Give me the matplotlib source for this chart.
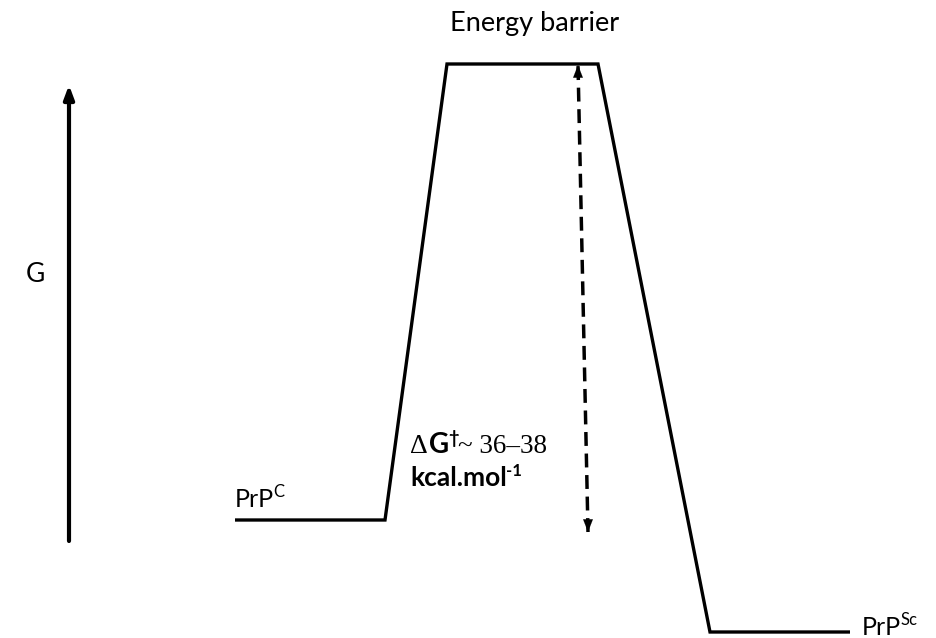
import matplotlib
matplotlib.use("Agg")
import matplotlib.pyplot as plt

# Reaction coordinate (x) and free energy (G) of the profile vertices
path_x = [235, 385, 447, 598, 710, 850]
path_G = [118, 118, 574, 574, 6, 6]

# Dashed barrier arrow (x, G) endpoints
barrier_arrow_x = [588, 578]
barrier_arrow_G = [106, 573]

# G axis arrow
gaxis_x = [69, 69]
gaxis_G = [97, 553]

fig = plt.figure(figsize=(9.37, 6.38), dpi=100)
ax = fig.add_axes([0, 0, 1, 1])
ax.set_xlim(0, 937)
ax.set_ylim(0, 638)
ax.axis("off")

ax.plot(path_x, path_G, color="black", lw=2.4, solid_joinstyle="miter",
        solid_capstyle="butt")

# dashed double arrow
ax.plot(barrier_arrow_x, barrier_arrow_G, color="black", lw=2.5,
        dashes=(4, 2.2))
for (x0, y0), (x1, y1) in [((barrier_arrow_x[0], barrier_arrow_G[0] + 12), (barrier_arrow_x[0], barrier_arrow_G[0])),
                           ((barrier_arrow_x[1], barrier_arrow_G[1] - 12), (barrier_arrow_x[1], barrier_arrow_G[1]))]:
    ax.annotate("", xy=(x1, y1), xytext=(x0, y0),
                arrowprops=dict(arrowstyle="-|>,head_length=0.9,head_width=0.35",
                                color="black", lw=0.1, shrinkA=0, shrinkB=0))

# G axis arrow
ax.annotate("", xy=(gaxis_x[1], gaxis_G[1]), xytext=(gaxis_x[0], gaxis_G[0]),
            arrowprops=dict(arrowstyle="-|>,head_length=0.8,head_width=0.3",
                            color="black", lw=3.0, shrinkA=0, shrinkB=0))

sans = "Lato"
serif = "Liberation Serif"

ax.text(35, 363, "G", fontsize=19, family=sans, ha="center", va="center")
ax.text(535, 615, "Energy barrier", fontsize=19.5, family=sans, ha="center",
        va="center")

renderer = fig.canvas.get_renderer()


def chain(pieces, x, baseline):
    """pieces: list of (string, dy, dx, text kwargs); placed left to right."""
    for s, dy, dx, kw in pieces:
        t = ax.text(x + dx, baseline + dy, s, ha="left", va="baseline", **kw)
        bb = t.get_window_extent(renderer)
        x = bb.x1


chain([("PrP", 0, 0, dict(fontsize=18, family=sans)),
       ("C", 10, -0.5, dict(fontsize=12, family=sans))], 235, 131)
chain([("PrP", 0, 0, dict(fontsize=18, family=sans)),
       ("Sc", 10, -0.5, dict(fontsize=12, family=sans))], 862, 3)

chain([("\u0394", 0, 0, dict(fontsize=20, family=serif)),
       ("G", 0, 1, dict(fontsize=20, family=sans, weight="bold")),
       ("\u2020", 9, -0.5, dict(fontsize=13, family=sans, weight="bold")),
       ("~ 36\u201338", 0, -1, dict(fontsize=19.5, family=serif))], 410, 185)
chain([("kcal.mol", 0, 0, dict(fontsize=19, family=sans, weight="bold")),
       ("-1", 10, -1, dict(fontsize=12, family=sans, weight="bold"))], 410, 152)

fig.savefig("out.png", dpi=100)
